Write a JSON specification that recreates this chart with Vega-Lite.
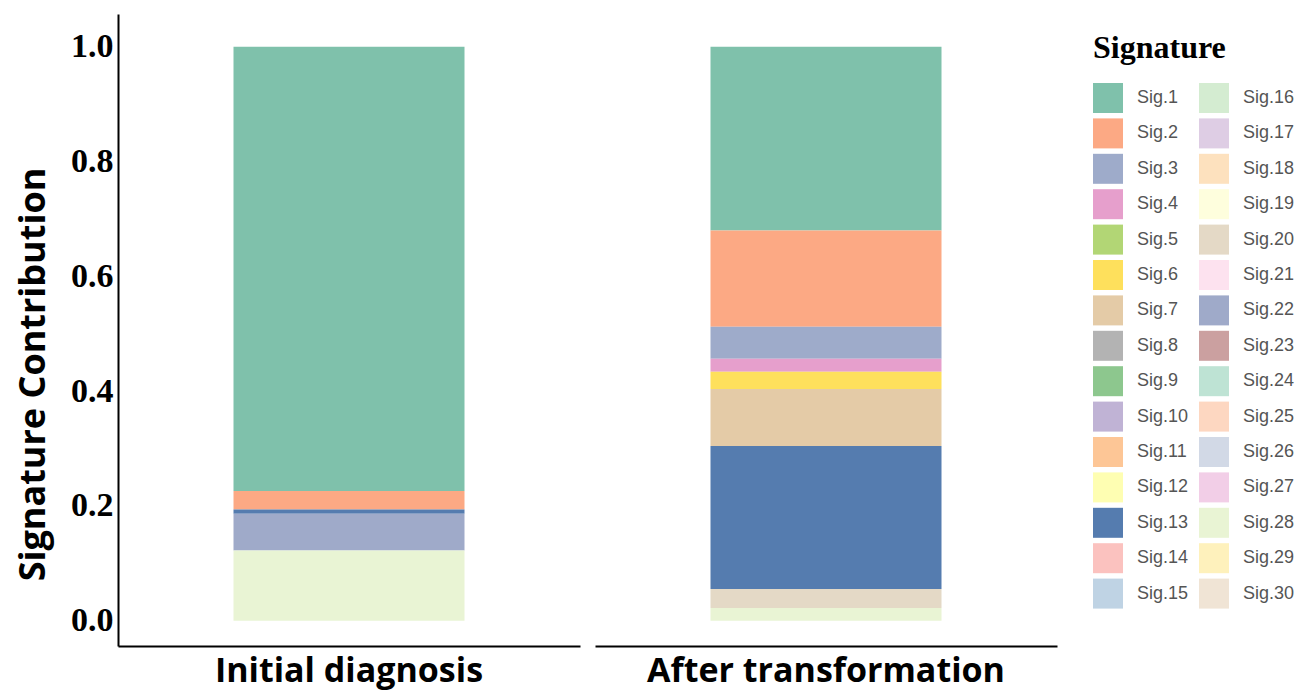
{
  "$schema": "https://vega.github.io/schema/vega-lite/v6.json",
  "background": "white",
  "padding": {"left": 15, "top": 14, "right": 5, "bottom": 4},
  "data": {"values": [
    {"stage": "Initial diagnosis", "sig": "Sig.1", "k": 1, "value": 0.774},
    {"stage": "Initial diagnosis", "sig": "Sig.2", "k": 2, "value": 0.032},
    {"stage": "Initial diagnosis", "sig": "Sig.13", "k": 13, "value": 0.0075},
    {"stage": "Initial diagnosis", "sig": "Sig.22", "k": 22, "value": 0.064},
    {"stage": "Initial diagnosis", "sig": "Sig.28", "k": 28, "value": 0.1225},
    {"stage": "After transformation", "sig": "Sig.1", "k": 1, "value": 0.320},
    {"stage": "After transformation", "sig": "Sig.2", "k": 2, "value": 0.168},
    {"stage": "After transformation", "sig": "Sig.3", "k": 3, "value": 0.0554},
    {"stage": "After transformation", "sig": "Sig.4", "k": 4, "value": 0.023},
    {"stage": "After transformation", "sig": "Sig.6", "k": 6, "value": 0.030},
    {"stage": "After transformation", "sig": "Sig.7", "k": 7, "value": 0.0993},
    {"stage": "After transformation", "sig": "Sig.13", "k": 13, "value": 0.249},
    {"stage": "After transformation", "sig": "Sig.20", "k": 20, "value": 0.033},
    {"stage": "After transformation", "sig": "Sig.28", "k": 28, "value": 0.0223}
  ]},
  "facet": {
    "column": {
      "field": "stage",
      "type": "nominal",
      "sort": ["Initial diagnosis", "After transformation"],
      "header": {"labels": false, "title": null}
    }
  },
  "spacing": 15,
  "resolve": {"scale": {"x": "independent"}},
  "spec": {
    "width": 462,
    "height": 632,
    "mark": {"type": "bar"},
    "encoding": {
      "x": {
        "field": "stage",
        "type": "nominal",
        "scale": {"paddingInner": 0, "paddingOuter": 0.5},
        "axis": {
          "title": null,
          "ticks": false,
          "labelAngle": 0,
          "labelLimit": 0,
          "labelFont": "Open Sans",
          "labelFontSize": 34,
          "labelFontWeight": "bold",
          "labelColor": "black",
          "labelPadding": 8,
          "domainColor": "black",
          "domainWidth": 2
        }
      },
      "y": {
        "field": "value",
        "type": "quantitative",
        "stack": true,
        "scale": {"domain": [-0.044, 1.057], "nice": false, "zero": false},
        "axis": {
          "title": "Signature Contribution",
          "values": [0, 0.2, 0.4, 0.6, 0.8, 1.0],
          "format": ".1f",
          "grid": false,
          "ticks": false,
          "labelFont": "Liberation Serif",
          "labelFontSize": 34,
          "labelFontWeight": "bold",
          "labelColor": "black",
          "labelPadding": 5,
          "titleFont": "Open Sans",
          "titleFontSize": 36,
          "titleFontWeight": "bold",
          "titleColor": "black",
          "titlePadding": 18,
          "titleY": 360,
          "domainColor": "black",
          "domainWidth": 2
        }
      },
      "color": {
        "field": "sig",
        "type": "nominal",
        "scale": {
          "domain": ["Sig.1", "Sig.2", "Sig.3", "Sig.4", "Sig.5", "Sig.6", "Sig.7", "Sig.8", "Sig.9", "Sig.10", "Sig.11", "Sig.12", "Sig.13", "Sig.14", "Sig.15", "Sig.16", "Sig.17", "Sig.18", "Sig.19", "Sig.20", "Sig.21", "Sig.22", "Sig.23", "Sig.24", "Sig.25", "Sig.26", "Sig.27", "Sig.28", "Sig.29", "Sig.30"],
          "range": ["#7fc1ab", "#fca984", "#9eabca", "#e69fcc", "#b2d675", "#fee05c", "#e4cba7", "#b3b3b3", "#8dc78e", "#c0b3d5", "#fdc696", "#fefeb2", "#557caf", "#fbc2bf", "#bfd3e4", "#d4ecd1", "#decde4", "#fde1be", "#fefedd", "#e4d9c6", "#fde2ef", "#9faac9", "#cba0a0", "#bee3d4", "#fdd7c1", "#d2d9e6", "#f2cee7", "#e9f4d4", "#fef1bc", "#f0e4d5"]
        },
        "legend": {
          "title": "Signature",
          "columns": 2,
          "symbolType": "square",
          "symbolSize": 900,
          "symbolStrokeWidth": 0,
          "symbolOpacity": 1,
          "labelFont": "Liberation Sans",
          "labelFontSize": 18,
          "labelColor": "#555555",
          "labelOffset": 14,
          "titleFont": "Liberation Serif",
          "titleFontSize": 32,
          "titleFontWeight": "bold",
          "titleColor": "black",
          "titlePadding": 18,
          "rowPadding": 5.4,
          "columnPadding": 10,
          "padding": 19,
          "offset": 17
        }
      },
      "order": {"field": "k", "type": "quantitative", "sort": "descending"}
    }
  },
  "config": {"view": {"stroke": null}}
}
